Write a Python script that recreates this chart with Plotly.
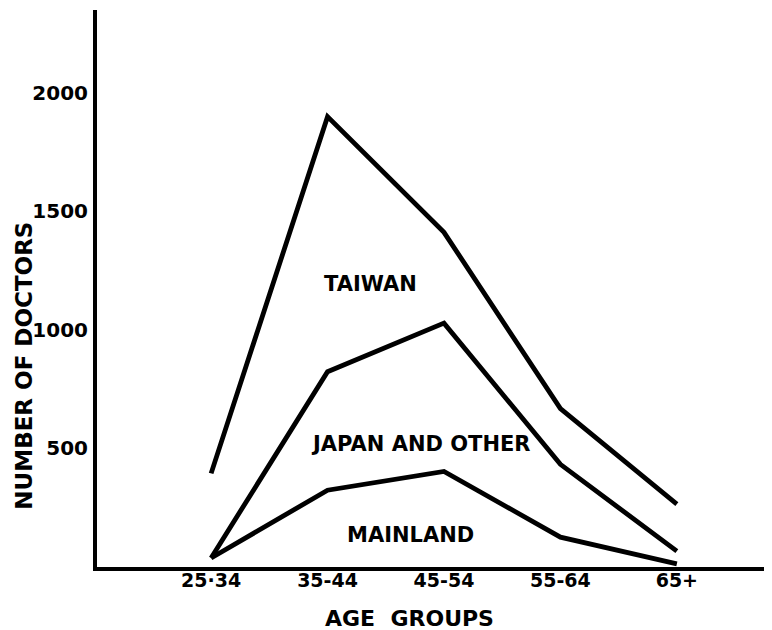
import plotly.graph_objects as go

# Data (cumulative totals)
age_groups = ["25·34", "35-44", "45-54", "55-64", "65+"]
x_pos = [0, 1, 2, 3, 4]
taiwan_total = [395, 1900, 1412, 668, 265]          # top line: total incl. Taiwan
japan_other_total = [38, 824, 1029, 433, 67]         # middle line: Mainland + Japan & other
mainland = [38, 324, 403, 126, 13]                   # bottom line: Mainland

y_ticks = [500, 1000, 1500, 2000]
region_labels = ["TAIWAN", "JAPAN AND OTHER", "MAINLAND"]

FONT = "DejaVu Sans"
line_style = dict(color="black", width=4.8)

fig = go.Figure()
for ys in (taiwan_total, japan_other_total, mainland):
    fig.add_trace(go.Scatter(x=x_pos, y=ys, mode="lines", line=line_style,
                             hoverinfo="skip", showlegend=False))

# Region labels
label_pos = [(1.37, 1195), (1.80, 520), (1.71, 135)]
for txt, (lx, ly) in zip(region_labels, label_pos):
    fig.add_annotation(x=lx, y=ly, xref="x", yref="y", text=txt, showarrow=False,
                       xanchor="center", yanchor="middle",
                       font=dict(family=FONT, size=21, color="black", weight="bold"))

# Y axis title (placed like the original, lower than centre)
fig.add_annotation(x=-0.108, y=0.362, xref="paper", yref="paper",
                   xanchor="center", yanchor="middle",
                   text="NUMBER OF DOCTORS", textangle=-90, showarrow=False,
                   font=dict(family=FONT, size=23, color="black", weight="bold"))
# X axis title
fig.add_annotation(x=0.465, y=-0.0916, xref="paper", yref="paper",
                   xanchor="center", yanchor="middle",
                   text="AGE  GROUPS", showarrow=False,
                   font=dict(family=FONT, size=22, color="black", weight="bold"))

fig.update_layout(
    width=764, height=622,
    margin=dict(l=89, r=2, t=2, b=63, autoexpand=False),
    paper_bgcolor="white", plot_bgcolor="white",
    showlegend=False,
)
fig.update_xaxes(
    range=[-0.98, 4.8], tickmode="array", tickvals=x_pos, ticktext=age_groups,
    showgrid=False, zeroline=False, showline=True, linecolor="black", linewidth=4,
    ticks="", tickfont=dict(family=FONT, size=19, color="black", weight="bold"),
    ticklabelstandoff=-7, automargin=False,
)
fig.update_yaxes(
    range=[0, 2350], tickmode="array", tickvals=y_ticks,
    ticktext=[str(v) for v in y_ticks],
    showgrid=False, zeroline=False, showline=True, linecolor="black", linewidth=4,
    ticks="", tickfont=dict(family=FONT, size=20, color="black", weight="bold"),
    ticklabelstandoff=1, automargin=False,
)

fig.write_html("out.html")
